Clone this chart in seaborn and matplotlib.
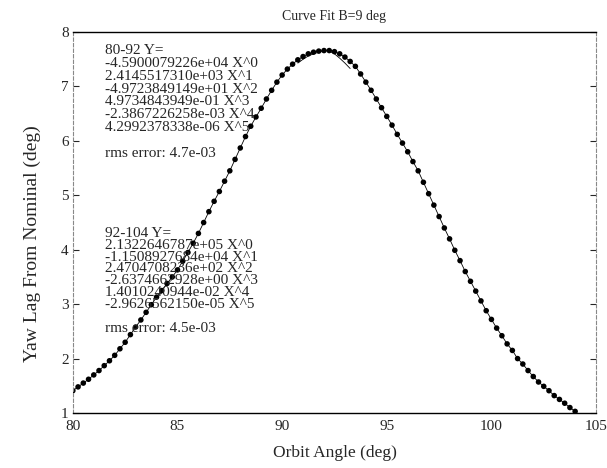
import numpy as np
import pandas as pd
import seaborn as sns
import matplotlib.pyplot as plt

# measured yaw lag (deg) vs orbit angle (deg), B = 9 deg
orbit_angle = [80.00, 80.25, 80.50, 80.75, 81.00, 81.25, 81.50, 81.75, 82.00, 82.25,
               82.50, 82.75, 83.00, 83.25, 83.50, 83.75, 84.00, 84.25, 84.50, 84.75,
               85.00, 85.25, 85.50, 85.75, 86.00, 86.25, 86.50, 86.75, 87.00, 87.25,
               87.50, 87.75, 88.00, 88.25, 88.50, 88.75, 89.00, 89.25, 89.50, 89.75,
               90.00, 90.25, 90.50, 90.75, 91.00, 91.25, 91.50, 91.75, 92.00, 92.25,
               92.50, 92.75, 93.00, 93.25, 93.50, 93.75, 94.00, 94.25, 94.50, 94.75,
               95.00, 95.25, 95.50, 95.75, 96.00, 96.25, 96.50, 96.75, 97.00, 97.25,
               97.50, 97.75, 98.00, 98.25, 98.50, 98.75, 99.00, 99.25, 99.50, 99.75,
               100.00, 100.25, 100.50, 100.75, 101.00, 101.25, 101.50, 101.75, 102.00, 102.25,
               102.50, 102.75, 103.00, 103.25, 103.50, 103.75, 104.00]
yaw_lag = [1.41, 1.48, 1.55, 1.62, 1.70, 1.78, 1.87, 1.96, 2.06, 2.18,
           2.30, 2.44, 2.58, 2.71, 2.85, 2.99, 3.13, 3.25, 3.38, 3.50,
           3.63, 3.79, 3.95, 4.12, 4.30, 4.50, 4.70, 4.89, 5.07, 5.26,
           5.45, 5.66, 5.87, 6.08, 6.27, 6.44, 6.60, 6.77, 6.93, 7.08,
           7.21, 7.32, 7.41, 7.49, 7.55, 7.60, 7.63, 7.65, 7.66, 7.66,
           7.64, 7.60, 7.54, 7.46, 7.37, 7.23, 7.08, 6.93, 6.77, 6.61,
           6.45, 6.29, 6.12, 5.96, 5.80, 5.62, 5.45, 5.24, 5.03, 4.82,
           4.61, 4.40, 4.20, 3.99, 3.80, 3.60, 3.42, 3.24, 3.06, 2.88,
           2.72, 2.56, 2.42, 2.27, 2.15, 2.00, 1.90, 1.78, 1.67, 1.57,
           1.49, 1.41, 1.32, 1.25, 1.18, 1.10, 1.03]

# fitted curves where they leave the data
fit1_ext_x = [92.00, 92.25, 92.50, 92.75, 93.00, 93.25]
fit1_ext_y = [7.66, 7.65, 7.60, 7.52, 7.43, 7.33]
fit2_ext_x = [90.75, 91.00, 91.25, 91.50, 91.75, 92.00]
fit2_ext_y = [7.43, 7.50, 7.56, 7.60, 7.63, 7.66]

fit1_text = ["80-92 Y=", "-4.5900079226e+04 X^0", "2.4145517310e+03 X^1",
             "-4.9723849149e+01 X^2", "4.9734843949e-01 X^3", "-2.3867226258e-03 X^4",
             "4.2992378338e-06 X^5", "", "rms error: 4.7e-03"]
fit2_text = ["92-104 Y=", "2.1322646787e+05 X^0", "-1.1508927684e+04 X^1",
             "2.4704708236e+02 X^2", "-2.6374662928e+00 X^3", "1.4010240944e-02 X^4",
             "-2.9626562150e-05 X^5", "", "rms error: 4.5e-03"]

df = pd.DataFrame({'angle': orbit_angle, 'yaw': yaw_lag})
fit1 = pd.concat([df[df['angle'] <= 92],
                  pd.DataFrame({'angle': fit1_ext_x, 'yaw': fit1_ext_y})]).drop_duplicates('angle')
fit2 = pd.concat([pd.DataFrame({'angle': fit2_ext_x, 'yaw': fit2_ext_y}),
                  df[df['angle'] > 92]])

sns.set_style("ticks")
plt.rcParams['font.family'] = ['Liberation Serif', 'DejaVu Serif']

fig = plt.figure(figsize=(6.07, 4.68), dpi=100)
ax = fig.add_axes([0.120, 0.1175, 0.862, 0.814])

sns.lineplot(data=fit1, x='angle', y='yaw', color='black', lw=0.6, sort=False, ax=ax)
sns.lineplot(data=fit2, x='angle', y='yaw', color='black', lw=0.6, sort=False, ax=ax)
sns.scatterplot(data=df, x='angle', y='yaw', color='black', s=16, edgecolor='none', ax=ax)

ax.set_xlim(80, 105)
ax.set_ylim(1, 8)
ax.set_xticks([80, 85, 90, 95, 100, 105])
ax.set_yticks([1, 2, 3, 4, 5, 6, 7, 8])
ax.tick_params(axis='y', direction='in', length=4, width=0.8, right=True, labelsize=11, pad=3)
ax.tick_params(axis='x', direction='in', length=0, labelsize=11, pad=5)

for side in ['top', 'bottom']:
    ax.spines[side].set_color('black')
    ax.spines[side].set_linewidth(1.0)
for side in ['left', 'right']:
    ax.spines[side].set_color('#888888')
    ax.spines[side].set_linewidth(0.8)
    ax.spines[side].set_linestyle((0, (3, 2)))

ax.set_title("Curve Fit B=9 deg", fontsize=10, pad=9)
ax.set_xlabel("Orbit Angle (deg)", fontsize=12.5, labelpad=9)
ax.set_ylabel("Yaw Lag From Nominal (deg)", fontsize=14)
ax.yaxis.set_label_coords(-0.06, 0.445)

# coefficient blocks
y1 = [50, 63, 76, 89, 101, 114, 127, 140, 153]
y2 = [233, 245, 257, 268, 280, 292, 304, 316, 328]
for s, yp in zip(fit1_text, y1):
    ax.text(0.061, (413 - yp) / 381, s, transform=ax.transAxes, fontsize=11, va='center')
for s, yp in zip(fit2_text, y2):
    ax.text(0.061, (413 - yp) / 381, s, transform=ax.transAxes, fontsize=11, va='center')

plt.savefig('out.png', dpi=100)
